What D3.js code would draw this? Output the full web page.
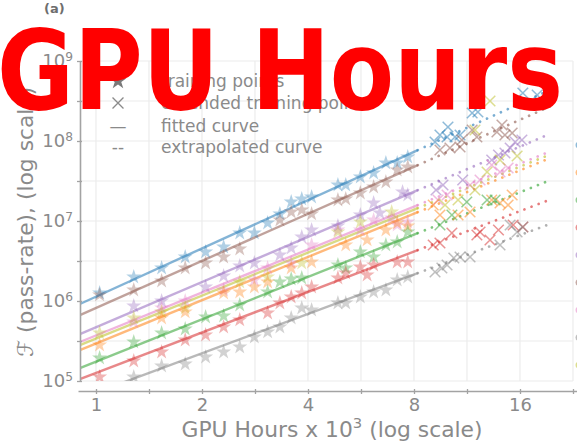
<!DOCTYPE html>
<html><head><meta charset="utf-8">
<script src="https://cdn.jsdelivr.net/npm/d3@7"></script>
<style>body{margin:0;background:#fff;} svg{display:block;}</style>
</head><body>
<script>
// ---------- DATA ----------
const seriesColors = ["#1f77b4","#8c564b","#9467bd","#e377c2","#bcbd22","#ff7f0e","#2ca02c","#d62728","#7f7f7f"];
// fitted power law  F = coef * x^exp   (x in 10^3 GPU hours)
const fitCoef = [1.132e6, 8.20e5, 4.705e5, 3.707e5, 3.396e5, 2.944e5, 1.748e5, 1.262e5, 7.16e4];
const fitExp  = [2.005, 1.953, 1.875, 1.784, 1.784, 1.797, 1.758, 1.680, 1.635];
const fitRange = [0.9, 8.2];
const extrapRange = [8.2, 19.5];

const trainBlue = [[1.024,1.259e6],[1.28,1.995e6],[1.536,2.585e6],[1.792,3.548e6],[2.048,4.10e6],[2.304,4.73e6],[2.56,7.08e6],[2.816,7.08e6],[3.072,9.44e6],[3.328,1.224e7],[3.584,1.728e7],[3.84,1.884e7],[4.096,1.995e7],[4.864,2.818e7],[5.12,2.818e7],[5.632,3.548e7],[6.144,3.981e7],[6.656,5.31e7],[7.168,5.31e7],[7.68,6.31e7]];
const trainBrown = [[1.024,1.189e6],[1.28,1.372e6],[1.536,1.778e6],[1.792,2.585e6],[2.048,2.985e6],[2.304,3.548e6],[2.56,4.467e6],[3.328,1.029e7],[3.584,1.296e7],[3.84,1.372e7],[4.096,1.224e7],[4.864,1.830e7],[5.12,1.884e7],[5.632,2.239e7],[6.144,2.661e7],[6.656,3.073e7],[7.168,4.34e7],[7.68,4.73e7]];
const trainPurple = [[1.28,8.66e5],[1.536,1.0e6],[2.048,1.496e6],[2.304,2.053e6],[2.56,2.738e6],[2.816,2.985e6],[3.328,3.758e6],[3.584,4.597e6],[3.84,6.31e6],[4.096,7.72e6],[4.864,8.66e6],[5.632,1.189e7],[6.144,1.679e7],[6.4,1.259e7],[7.424,2.304e7],[7.68,2.113e7]];
const trainPink = [[1.28,5.465e5],[1.536,8.17e5],[1.792,1.0e6],[2.304,1.372e6],[2.816,1.83e6],[3.072,2.585e6],[3.584,2.985e6],[4.096,5.012e6],[4.864,7.72e6],[5.632,7.72e6],[6.144,1.029e7],[6.912,1.09e7],[7.168,8.91e6],[7.68,9.72e6]];
const trainOlive = [[1.024,3.981e5],[1.28,6.13e5],[1.536,7.29e5],[1.792,8.17e5],[2.56,1.728e6],[3.072,1.995e6],[3.84,2.985e6],[4.864,7.29e6],[5.632,9.72e6],[6.912,1.296e7]];
const trainOrange = [[1.024,2.818e5],[1.536,6.13e5],[1.792,7.29e5],[2.304,1.259e6],[2.56,1.296e6],[2.816,1.496e6],[3.072,1.728e6],[3.584,2.585e6],[4.096,3.073e6],[5.12,5.012e6],[5.888,5.79e6],[6.656,7.72e6],[7.168,9.44e6],[7.68,8.66e6]];
const trainGreen = [[1.024,1.939e5],[1.28,3.073e5],[1.536,3.981e5],[1.792,4.467e5],[2.048,6.31e5],[2.304,6.49e5],[2.56,8.91e5],[3.072,1.296e6],[3.328,1.728e6],[3.584,1.884e6],[3.84,1.939e6],[4.864,2.818e6],[5.12,2.585e6],[5.632,4.10e6],[6.144,3.548e6],[6.656,5.012e6],[7.168,5.465e6],[7.68,7.29e6]];
const trainRed = [[1.024,1.122e5],[1.28,1.778e5],[1.536,2.304e5],[1.792,3.254e5],[2.048,3.758e5],[2.304,4.73e5],[2.56,5.79e5],[3.072,7.08e5],[3.328,9.44e5],[3.584,1.122e6],[3.84,1.259e6],[4.096,1.496e6],[4.864,1.939e6],[5.12,2.239e6],[5.632,2.661e6],[5.888,2.113e6],[6.144,2.818e6],[7.168,3.073e6],[7.68,3.073e6]];
const trainGray = [[1.28,1.122e5],[1.536,1.54e5],[1.792,1.631e5],[2.048,1.995e5],[2.304,2.304e5],[2.56,2.661e5],[2.816,3.548e5],[3.072,4.10e5],[3.328,4.73e5],[3.584,6.13e5],[3.84,8.17e5],[4.096,7.72e5],[4.864,9.44e5],[5.12,9.44e5],[5.632,1.122e6],[6.144,1.296e6],[6.656,1.372e6],[7.168,1.83e6],[7.68,1.995e6]];

const extBlue = [[9.18,9.72e7],[9.48,1.189e8],[9.93,1.122e8],[9.99,1.496e8],[10.46,1.122e8],[10.81,1.189e8],[11.7,2.239e8],[12.15,2.304e8],[16.3,3.981e8],[17.9,3.758e8]];
const extBrown = [[9.48,7.72e7],[10.12,8.17e7],[10.81,8.41e7],[10.94,1.029e8],[11.7,1.372e8],[12.07,1.122e8],[13.76,1.296e8],[14.22,1.585e8],[14.5,1.189e8],[15.2,1.259e8]];
const extPurple = [[9.24,2.44e7],[9.67,2.818e7],[11.0,3.254e7],[13.3,5.79e7],[13.9,6.68e7],[14.5,7.08e7],[15.0,8.17e7],[15.5,9.72e7],[16.2,1.029e8]];
const extPink = [[9.36,1.83e7],[9.93,2.113e7],[11.54,2.818e7],[12.32,3.254e7],[13.3,5.012e7],[14.04,4.10e7],[14.8,4.597e7]];
const extOlive = [[9.8,1.585e7],[10.67,1.83e7],[11.92,2.44e7],[12.9,4.10e7],[14.04,5.79e7],[15.7,6.49e7],[11.92,1.372e8],[13.15,3.162e8]];
const extOrange = [[9.07,1.585e7],[9.48,1.189e7],[10.67,1.189e7],[11.54,1.296e7],[13.3,1.83e7],[14.04,1.679e7],[14.8,1.585e7],[15.2,2.113e7]];
const extGreen = [[9.48,8.91e6],[10.25,1.189e7],[11.3,1.728e7],[12.9,1.83e7],[13.6,1.83e7]];
const extRed = [[9.07,5.012e6],[9.48,5.31e6],[10.25,7.08e6],[12.07,6.68e6],[12.32,7.29e6],[13.15,5.79e6],[13.9,7.72e6],[15.3,8.91e6],[16.3,8.41e6]];
const extGray = [[9.18,2.304e6],[9.6,2.585e6],[9.93,2.818e6],[10.38,3.447e6],[10.81,3.548e6],[11.54,3.548e6],[14.04,5.012e6],[15.0,8.91e6],[15.7,7.29e6],[16.3,8.41e6]];

const trainSets = [trainBlue,trainBrown,trainPurple,trainPink,trainOlive,trainOrange,trainGreen,trainRed,trainGray];
const extSets = [extBlue,extBrown,extPurple,extPink,extOlive,extOrange,extGreen,extRed,extGray];

const xMajorTicks = [1,2,4,8,16];
const xMinorTicks = [1.4142,2.8284,5.6569,11.3137,22.6274];
const yMajorTicks = [1e5,1e6,1e7,1e8,1e9];
const yMinorTicks = [3.1623e5,3.1623e6,3.1623e7,3.1623e8];
const legendLabels = ["training points","extended training points","fitted curve","extrapolated curve"];
const edgeDotColors = ["#1f77b4","#ff7f0e","#2ca02c","#d62728","#9467bd","#8c564b","#e377c2","#7f7f7f","#bcbd22"];

// ---------- CHART ----------
const W = 577, H = 442;
const FONT = "'DejaVu Sans', sans-serif";
const svg = d3.select("body").append("svg").attr("width", W).attr("height", H)
  .style("font-family", FONT);

const x0 = d3.scaleLog().base(2).domain([1,16]).range([96,520]);
const x = d3.scaleLog().base(2).domain([x0.invert(78), x0.invert(577)]).range([78,577]);
const y = d3.scaleLog().domain([1e5,1e9]).range([381,61]);

const textCol = "#8a8a8a", axisCol = "#a3a3a3", gridCol = "#ececec";

// grid
const gridX = xMajorTicks.concat(xMinorTicks);
const gridY = yMajorTicks.concat(yMinorTicks);
svg.append("g").selectAll("line").data(gridX).join("line")
  .attr("x1", d => x(d)).attr("x2", d => x(d)).attr("y1", y(1e9)).attr("y2", y(1e5))
  .attr("stroke", gridCol).attr("stroke-width", 1.2);
svg.append("g").selectAll("line").data(gridY).join("line")
  .attr("x1", 80).attr("x2", x(22.6274)).attr("y1", d => y(d)).attr("y2", d => y(d))
  .attr("stroke", gridCol).attr("stroke-width", 1.2);

// clip
svg.append("clipPath").attr("id","plotclip").append("rect")
  .attr("x", 80).attr("y", 40).attr("width", 497).attr("height", y(1e5) - 40);

const plot = svg.append("g").attr("clip-path","url(#plotclip)");
const line = d3.line().x(d => x(d[0])).y(d => y(d[1]));

seriesColors.forEach((c, i) => {
  const fit = fitRange.map(v => [v, fitCoef[i] * Math.pow(v, fitExp[i])]);
  const ext = extrapRange.map(v => [v, fitCoef[i] * Math.pow(v, fitExp[i])]);
  plot.append("path").attr("d", line(fit)).attr("fill","none")
    .attr("stroke", c).attr("stroke-opacity", 0.55).attr("stroke-width", 2.4);
  plot.append("path").attr("d", line(ext)).attr("fill","none")
    .attr("stroke", c).attr("stroke-opacity", 0.6).attr("stroke-width", 2.7)
    .attr("stroke-linecap","round").attr("stroke-dasharray","0.01,7.6");
});

const star = d3.symbol(d3.symbolStar, 70);
const cross = d3.symbol(d3.symbolTimes, 75);
seriesColors.forEach((c, i) => {
  plot.append("g").selectAll("path").data(trainSets[i]).join("path")
    .attr("d", star).attr("transform", d => `translate(${x(d[0])},${y(d[1])})`)
    .attr("fill", c).attr("fill-opacity", 0.35);
  plot.append("g").selectAll("path").data(extSets[i]).join("path")
    .attr("d", cross).attr("transform", d => `translate(${x(d[0])},${y(d[1])})`)
    .attr("fill","none").attr("stroke", c).attr("stroke-opacity", 0.5).attr("stroke-width", 1.5);
});

// x axis
const gx = svg.append("g").attr("transform", "translate(0,391)")
  .call(d3.axisBottom(x).tickValues(xMajorTicks.concat(xMinorTicks))
    .tickFormat(d => xMajorTicks.includes(d) ? String(d) : "").tickSize(4).tickSizeOuter(0).tickPadding(3));
gx.select(".domain").attr("stroke", axisCol).attr("stroke-width", 1.6);
gx.selectAll(".tick line").attr("stroke", axisCol).attr("stroke-width", 1.3)
  .attr("y1", -2).attr("y2", 3);
gx.selectAll(".tick text").attr("fill", textCol).attr("font-size", 18).attr("font-family", FONT);

// y axis
const gy = svg.append("g").attr("transform", "translate(80,0)")
  .call(d3.axisLeft(y).tickValues(yMajorTicks.concat(yMinorTicks))
    .tickFormat(d => yMajorTicks.includes(d) ? String(d) : "").tickSize(4).tickSizeOuter(0).tickPadding(3));
gy.select(".domain").attr("stroke", axisCol).attr("stroke-width", 1.6);
gy.selectAll(".tick line").attr("stroke", axisCol).attr("stroke-width", 1.3).attr("x1", 2).attr("x2", -3);
gy.selectAll(".tick text").attr("fill", textCol).attr("font-size", 18).attr("font-family", FONT)
  .each(function(d) {
    const t = d3.select(this);
    if (!yMajorTicks.includes(d)) return;
    const e = Math.round(Math.log10(d));
    t.text("10");
    t.append("tspan").attr("dy", "-0.55em").attr("font-size", "0.68em").text(e);
  });

// axis labels
const xLab = svg.append("text").attr("x", 332).attr("y", 437).attr("text-anchor","middle")
  .attr("fill", textCol).attr("font-size", 21.8);
xLab.append("tspan").text("GPU Hours x 10");
xLab.append("tspan").attr("dy","-0.6em").attr("font-size","0.68em").text("3");
xLab.append("tspan").attr("dy","0.408em").text(" (log scale)");

svg.append("text").attr("transform","translate(33,357) rotate(-90)").attr("text-anchor","start")
  .attr("fill", textCol).attr("font-size", 21.8)
  .text("ℱ (pass-rate), (log scale)");

// panel label
svg.append("text").attr("x", 44).attr("y", 13).attr("fill", "#6e6e6e").attr("font-size", 13)
  .attr("font-weight","bold").text("(a)");

// legend
const legRows = [81,103,126,147];
const leg = svg.append("g");
leg.append("path").attr("d", d3.symbol(d3.symbolStar, 90)()).attr("transform",`translate(118,${legRows[0]})`).attr("fill","#7a7a7a");
leg.append("path").attr("d", d3.symbol(d3.symbolTimes, 80)()).attr("transform",`translate(118,${legRows[1]})`)
  .attr("fill","none").attr("stroke","#8a8a8a").attr("stroke-width",1.3);
leg.append("text").attr("x",118).attr("y",legRows[2]).attr("dy","0.35em").attr("text-anchor","middle")
  .attr("fill",textCol).attr("font-size",17).text("—");
leg.append("text").attr("x",118).attr("y",legRows[3]).attr("dy","0.35em").attr("text-anchor","middle")
  .attr("fill",textCol).attr("font-size",17).text("--");
leg.selectAll("text.lab").data(legendLabels).join("text").attr("class","lab")
  .attr("x",161).attr("y",(d,i)=>legRows[i]).attr("dy","0.35em")
  .attr("fill",textCol).attr("font-size",17).text(d=>d);

// cut-off markers of neighbouring legend at right edge
const edgeY = d3.scalePoint().domain(d3.range(edgeDotColors.length)).range([145,365]);
svg.append("g").selectAll("circle").data(edgeDotColors).join("circle")
  .attr("cx", 579).attr("cy", (d,i)=>edgeY(i)).attr("r", 3.5).attr("fill", d=>d).attr("fill-opacity",0.5);

// big red title
svg.append("text").attr("x", -3).attr("y", 109)
  .attr("font-family", FONT).attr("font-weight","bold").attr("font-size", 110)
  .attr("fill","#ff0000").attr("textLength", 566).attr("lengthAdjust","spacingAndGlyphs")
  .text("GPU Hours");
</script>
</body></html>
